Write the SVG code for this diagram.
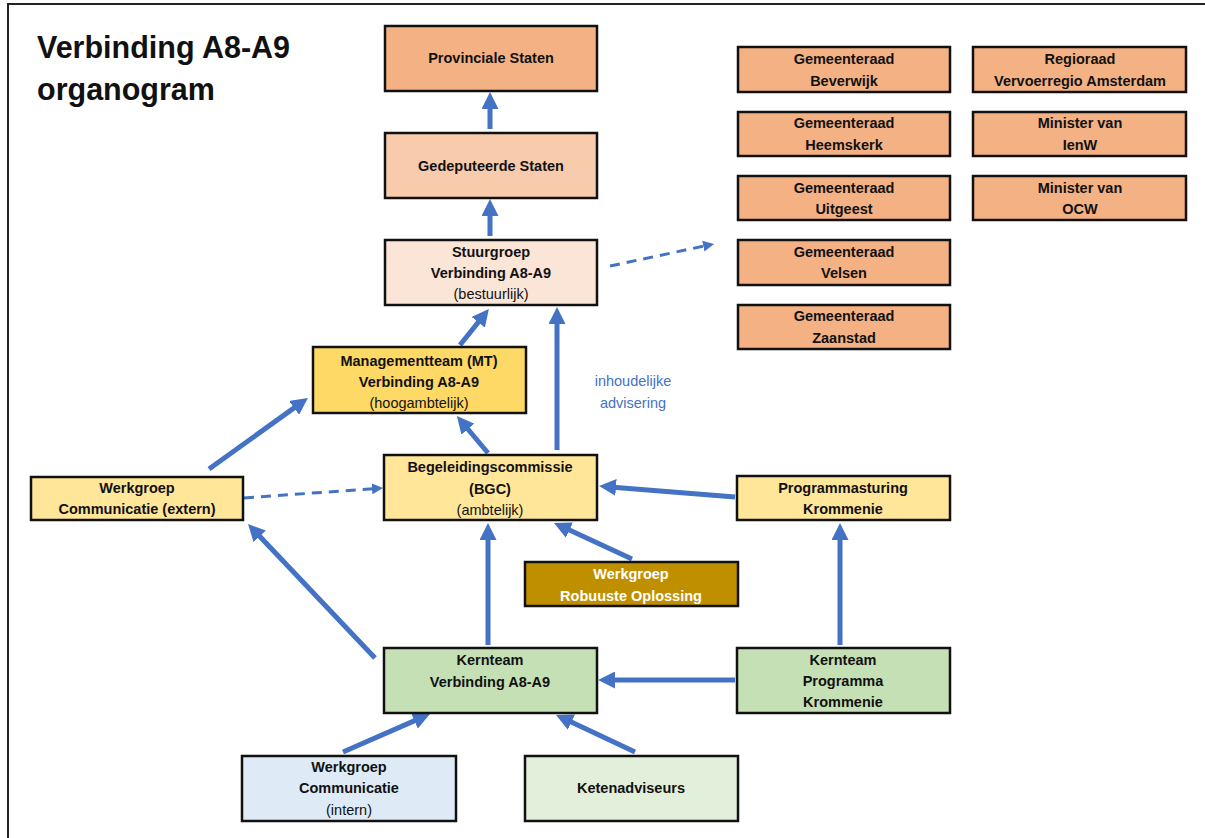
<svg xmlns="http://www.w3.org/2000/svg" width="1205" height="838" viewBox="0 0 1205 838">
<style>
.box{stroke:#111;stroke-width:2.5}
.t{font-family:"Liberation Sans",Arial,sans-serif;font-size:14.5px;font-weight:bold;fill:#111;text-anchor:middle}
.r{font-weight:normal}
.w{fill:#fff}
.c{stroke:#4472C4;stroke-width:5;fill:none;marker-end:url(#ah)}
.d{stroke:#4472C4;stroke-width:3;fill:none;stroke-dasharray:10 7;marker-end:url(#ahs)}
.lbl{font-family:"Liberation Sans",Arial,sans-serif;font-size:14.5px;fill:#4472C4;text-anchor:middle}
</style>
<defs>
<marker id="ah" markerUnits="userSpaceOnUse" markerWidth="17" markerHeight="17" refX="6" refY="8.5" orient="auto"><path d="M0,0 L17,8.5 L0,17 z" fill="#4472C4"/></marker>
<marker id="ahs" markerUnits="userSpaceOnUse" markerWidth="11" markerHeight="11" refX="4" refY="5.5" orient="auto"><path d="M0,0 L11,5.5 L0,11 z" fill="#4472C4"/></marker>
</defs>
<rect width="1205" height="838" fill="#fff"/>
<path d="M8,838 L8,4 L1205,4" fill="none" stroke="#222" stroke-width="2"/>
<g id="title" font-family="Liberation Sans,Arial,sans-serif" font-weight="bold" font-size="30.5" fill="#111">
<text x="37" y="58">Verbinding A8-A9</text>
<text x="37" y="100">organogram</text>
</g>
<g id="connectors">
<line class="c" x1="490" y1="129" x2="490" y2="103"/>
<line class="c" x1="490" y1="236" x2="490" y2="210"/>
<line class="d" x1="610" y1="266" x2="707.2" y2="245.4"/>
<line class="c" x1="460" y1="345" x2="482" y2="317.6"/>
<line class="c" x1="557" y1="450" x2="557" y2="318"/>
<line class="c" x1="488" y1="453" x2="464" y2="424.5"/>
<line class="c" x1="209" y1="469" x2="299" y2="404.4"/>
<line class="d" x1="244" y1="498" x2="376" y2="488.5"/>
<line class="c" x1="735" y1="497" x2="610" y2="486.9"/>
<line class="c" x1="632" y1="559" x2="564" y2="527.6"/>
<line class="c" x1="488" y1="645" x2="488" y2="534"/>
<line class="c" x1="375" y1="658" x2="255.6" y2="532"/>
<line class="c" x1="840" y1="645" x2="840" y2="534"/>
<line class="c" x1="735" y1="680" x2="609" y2="680"/>
<line class="c" x1="343" y1="752" x2="419.9" y2="718.4"/>
<line class="c" x1="635" y1="752" x2="566" y2="719.6"/>
<text class="lbl" x="633" y="386">inhoudelijke</text>
<text class="lbl" x="633" y="408">advisering</text>
</g>
<g id="provinciale-staten"><rect class="box" x="385" y="26" width="212" height="65" fill="#F4B183"/><text class="t" x="491" y="63">Provinciale Staten</text></g>
<g id="gedeputeerde-staten"><rect class="box" x="385" y="133" width="212" height="65" fill="#F8CBAD"/><text class="t" x="491" y="171">Gedeputeerde Staten</text></g>
<g id="stuurgroep"><rect class="box" x="385" y="240" width="212" height="65" fill="#FBE5D6"/><text class="t" x="491" y="257">Stuurgroep</text><text class="t" x="491" y="278">Verbinding A8-A9</text><text class="t r" x="491" y="299">(bestuurlijk)</text></g>
<g id="gr-beverwijk"><rect class="box" x="738" y="47" width="212" height="45" fill="#F4B183"/><text class="t" x="844" y="64">Gemeenteraad</text><text class="t" x="844" y="86">Beverwijk</text></g>
<g id="gr-heemskerk"><rect class="box" x="738" y="112" width="212" height="44" fill="#F4B183"/><text class="t" x="844" y="128">Gemeenteraad</text><text class="t" x="844" y="150">Heemskerk</text></g>
<g id="gr-uitgeest"><rect class="box" x="738" y="176" width="212" height="44" fill="#F4B183"/><text class="t" x="844" y="193">Gemeenteraad</text><text class="t" x="844" y="214">Uitgeest</text></g>
<g id="gr-velsen"><rect class="box" x="738" y="240" width="212" height="45" fill="#F4B183"/><text class="t" x="844" y="257">Gemeenteraad</text><text class="t" x="844" y="278">Velsen</text></g>
<g id="gr-zaanstad"><rect class="box" x="738" y="305" width="212" height="44" fill="#F4B183"/><text class="t" x="844" y="321">Gemeenteraad</text><text class="t" x="844" y="343">Zaanstad</text></g>
<g id="regioraad"><rect class="box" x="973" y="47" width="213" height="45" fill="#F4B183"/><text class="t" x="1080" y="64">Regioraad</text><text class="t" x="1080" y="86">Vervoerregio Amsterdam</text></g>
<g id="minister-ienw"><rect class="box" x="973" y="112" width="213" height="44" fill="#F4B183"/><text class="t" x="1080" y="128">Minister van</text><text class="t" x="1080" y="150">IenW</text></g>
<g id="minister-ocw"><rect class="box" x="973" y="176" width="213" height="44" fill="#F4B183"/><text class="t" x="1080" y="193">Minister van</text><text class="t" x="1080" y="214">OCW</text></g>
<g id="managementteam"><rect class="box" x="313" y="347" width="213" height="66" fill="#FFD966"/><text class="t" x="419" y="366">Managementteam (MT)</text><text class="t" x="419" y="387">Verbinding A8-A9</text><text class="t r" x="419" y="408">(hoogambtelijk)</text></g>
<g id="bgc"><rect class="box" x="384" y="455" width="213" height="65" fill="#FFE699"/><text class="t" x="490" y="472">Begeleidingscommissie</text><text class="t" x="490" y="494">(BGC)</text><text class="t r" x="490" y="515">(ambtelijk)</text></g>
<g id="wg-communicatie-extern"><rect class="box" x="31" y="477" width="212" height="43" fill="#FFE699"/><text class="t" x="137" y="493">Werkgroep</text><text class="t" x="137" y="514">Communicatie (extern)</text></g>
<g id="programmasturing"><rect class="box" x="737" y="476" width="213" height="44" fill="#FFE699"/><text class="t" x="843" y="493">Programmasturing</text><text class="t" x="843" y="514">Krommenie</text></g>
<g id="wg-robuuste"><rect class="box" x="525" y="562" width="213" height="44" fill="#BF8F00"/><text class="t w" x="631" y="579">Werkgroep</text><text class="t w" x="631" y="601">Robuuste Oplossing</text></g>
<g id="kernteam"><rect class="box" x="384" y="648" width="213" height="65" fill="#C5E0B4"/><text class="t" x="490" y="665">Kernteam</text><text class="t" x="490" y="687">Verbinding A8-A9</text></g>
<g id="kernteam-krommenie"><rect class="box" x="737" y="648" width="213" height="65" fill="#C5E0B4"/><text class="t" x="843" y="665">Kernteam</text><text class="t" x="843" y="686">Programma</text><text class="t" x="843" y="707">Krommenie</text></g>
<g id="wg-communicatie-intern"><rect class="box" x="242" y="756" width="214" height="65" fill="#DEEBF7"/><text class="t" x="349" y="772">Werkgroep</text><text class="t" x="349" y="793">Communicatie</text><text class="t r" x="349" y="815">(intern)</text></g>
<g id="ketenadviseurs"><rect class="box" x="525" y="756" width="213" height="65" fill="#E2EFDA"/><text class="t" x="631" y="793">Ketenadviseurs</text></g>
</svg>
